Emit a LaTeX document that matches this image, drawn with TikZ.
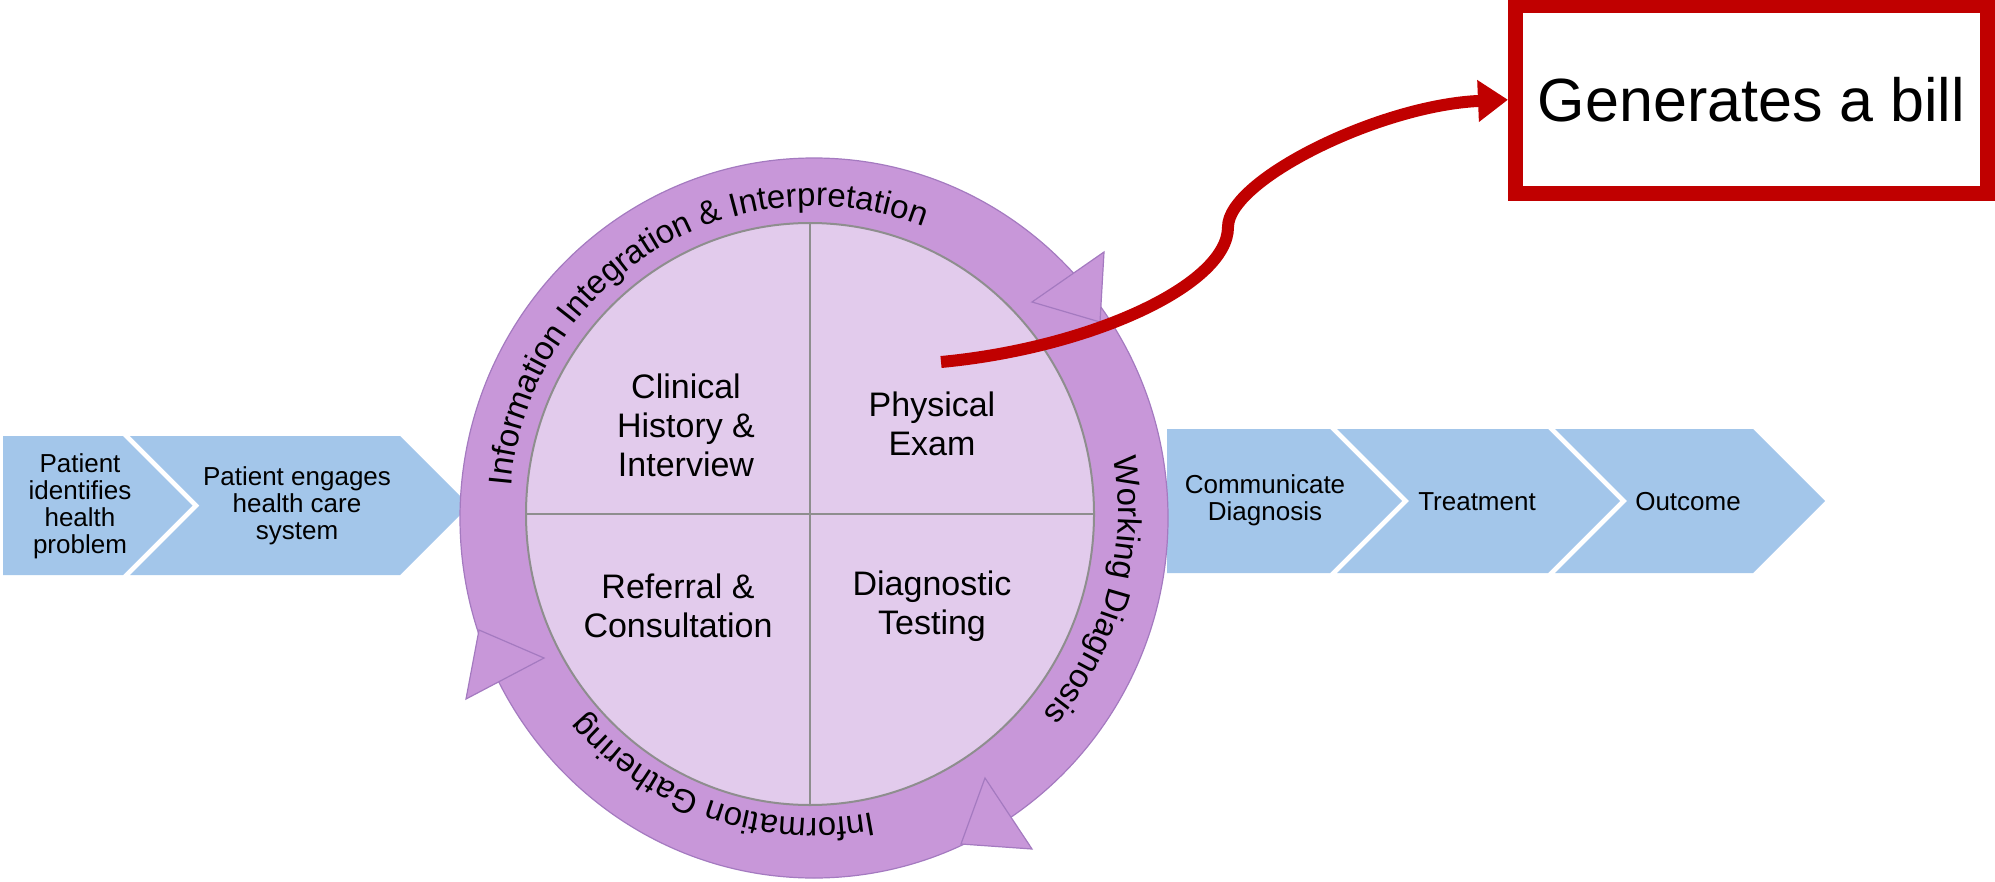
\documentclass[tikz,border=0pt]{standalone}
\usepackage{fontspec}
\setmainfont{Liberation Sans}
\usetikzlibrary{arrows.meta,decorations.text,calc}

\definecolor{ringpurple}{HTML}{C897D9}
\definecolor{ringedge}{HTML}{A47AC0}
\definecolor{innerfill}{HTML}{E2CBEC}
\definecolor{greyline}{HTML}{8E8E8E}
\definecolor{chevblue}{HTML}{A3C6EA}
\definecolor{billred}{HTML}{C00000}

\newcommand\ringfont{\fontsize{16.5}{19}\selectfont}

\begin{document}
\begin{tikzpicture}[x=0.5pt,y=-0.5pt,
  chev/.style={fill=chevblue},
  chevtext/.style={font=\fontsize{13}{13.5}\selectfont, align=center, inner sep=0pt},
  quadtext/.style={font=\fontsize{17}{19.5}\selectfont, align=center, inner sep=0pt},
  headtri/.style={fill=ringpurple, draw=ringedge, line width=0.6pt, line join=miter},
  divider/.style={draw=greyline, line width=1pt}
]
\useasboundingbox (0,0) rectangle (1995,882);

% process chevrons, left of the cycle
\fill[chev] (3,436) -- (123,436) -- (192.5,505.5) -- (123,575) -- (3,575) -- cycle;
\fill[chev] (130,436) -- (400,436) -- (469.5,505.5) -- (400,575) -- (130,575) -- (199.5,505.5) -- cycle;
% process chevrons, right of the cycle
\fill[chev] (1167,429) -- (1330,429) -- (1402,501) -- (1330,573) -- (1167,573) -- cycle;
\fill[chev] (1337,429) -- (1548,429) -- (1620,501) -- (1548,573) -- (1337,573) -- (1409,501) -- cycle;
\fill[chev] (1555,429) -- (1753,429) -- (1825,501) -- (1753,573) -- (1555,573) -- (1627,501) -- cycle;

\node[chevtext] (identify) at (80,506) {Patient\\identifies\\health\\problem};
\node[chevtext] (engage) at (297,506) {Patient engages\\health care\\system};
\node[chevtext] (communicate) at (1265,500) {Communicate\\Diagnosis};
\node[chevtext] (treatment) at (1477,502) {Treatment};
\node[chevtext] (outcome) at (1688,502) {Outcome};

% the cycle ring
\coordinate (ringc) at (814,518);
\filldraw[fill=ringpurple, draw=ringedge, line width=0.6pt] (ringc) ellipse[x radius=354, y radius=360];

% inner disc split in four quadrants
\coordinate (innc) at (810,514);
\filldraw[fill=innerfill, draw=greyline, line width=1pt] (innc) ellipse[x radius=284, y radius=291];
\draw[divider] (810,223) -- (810,805);
\draw[divider] (526,514) -- (1094,514);

% arrowheads on the ring
\filldraw[headtri] (1032,302) -- (1104,252) -- (1100,322) -- cycle;
\filldraw[headtri] (985,778) -- (1032,849) -- (961,844) -- cycle;
\filldraw[headtri] (479,630) -- (544,658) -- (466,699) -- cycle;

% labels running along the ring
\coordinate (txtc) at (814,512);
\path[decorate, decoration={text along path, text align=center,
    text={|\ringfont|Information Integration {\&} Interpretation}}]
  ($(txtc)+(-185:304 and 306)$) arc[start angle=-185, end angle=-59, x radius=304, y radius=306];
\path[decorate, decoration={text along path, text align=center,
    text={|\ringfont|Working Diagnosis}}]
  ($(txtc)+(-20:304 and 306)$) arc[start angle=-20, end angle=51, x radius=304, y radius=306];
\path[decorate, decoration={text along path, text align=center,
    text={|\ringfont|Information Gathering}}]
  ($(txtc)+(75:304 and 306)$) arc[start angle=75, end angle=143, x radius=304, y radius=306];

% quadrant labels
\node[quadtext] (history) at (686,425) {Clinical\\History \&\\Interview};
\node[quadtext] (exam) at (932,424) {Physical\\Exam};
\node[quadtext] (referral) at (678,606) {Referral \&\\Consultation};
\node[quadtext] (testing) at (932,606) {Diagnostic\\Testing};

% billing callout
\node[draw=billred, line width=7.5pt, outer sep=3.75pt, inner sep=0pt,
      minimum width=236pt, minimum height=93.75pt,
      font=\fontsize{30.5}{36}\selectfont] (bill) at (1751.5,99.75) {Generates a bill};

\coordinate (examfee) at (941,362);
\draw[billred, line width=6pt, -{Triangle[length=15pt,width=20pt]}]
  (examfee) .. controls (1090,348) and (1228,285) .. (1228,227)
            .. controls (1228,180) and (1380,105) .. (bill.west);
\end{tikzpicture}
\end{document}
